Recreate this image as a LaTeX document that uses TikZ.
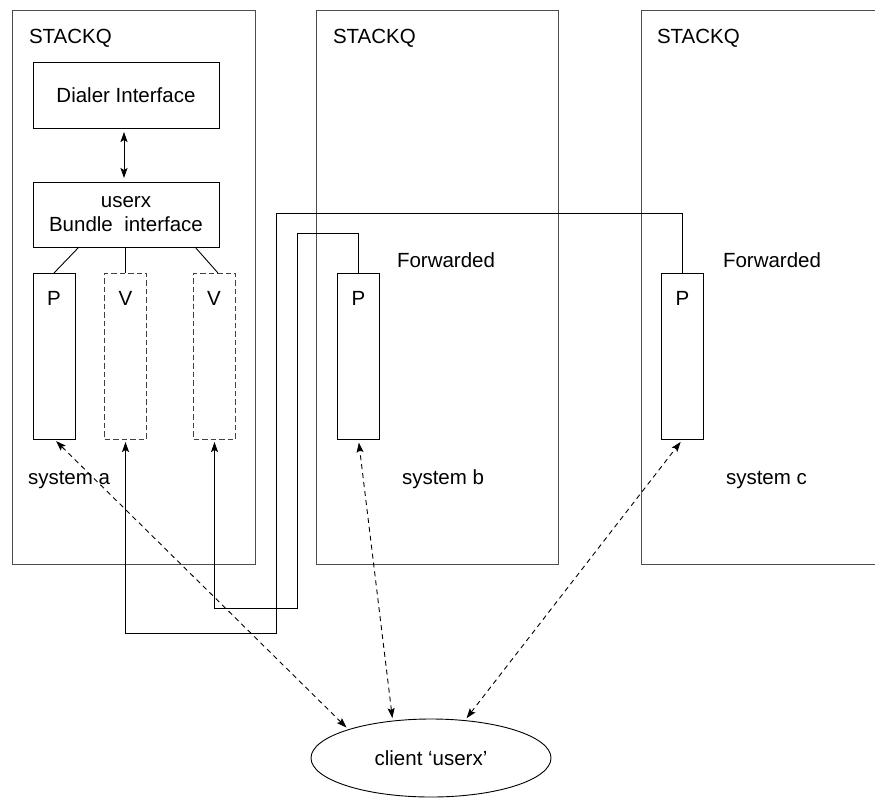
\documentclass[tikz,border=0pt]{standalone}
\usepackage{fontspec}
\setmainfont{Liberation Sans}
\usetikzlibrary{arrows.meta,shapes.geometric}
\begin{document}
\begin{tikzpicture}[x=1pt,y=-1pt,
  every node/.style={font=\fontsize{20.5}{24}\selectfont, inner sep=0pt, outer sep=0pt},
  frame/.style={draw=black!70, line width=1pt},
  tbox/.style={draw, line width=0.9pt, minimum width=186pt, minimum height=66pt, align=center},
  pbox/.style={draw, line width=0.9pt, minimum width=42pt, minimum height=166pt},
  vbox/.style={pbox, draw=black!75, dash pattern=on 5.5pt off 3pt},
  txt/.style={anchor=base west},
  lbl/.style={anchor=base},
  conn/.style={line width=0.9pt},
  tip/.tip={Stealth[length=10pt,width=7pt,inset=2pt]},
  arr/.style={conn, -tip, shorten >=3pt},
  darr/.style={conn, dash pattern=on 5pt off 4pt, tip-tip, shorten <=3pt, shorten >=3pt}
]
\useasboundingbox (0,0) rectangle (875,798);

% frames
\draw[frame] (12,10) rectangle (255,564);
\draw[frame] (316,10) rectangle (558,564);
\draw[frame] (880,10) -| (641,564) -- (880,564);

% titles
\node[txt] (sa) at (29,43) {STACKQ};
\node[txt] (sb) at (333,43) {STACKQ};
\node[txt] (sc) at (657,43) {STACKQ};

% system a boxes
\node[tbox] (dial) at (126,95) {Dialer Interface};
\node[tbox, minimum height=65pt] (bund) at (126,214.5) {userx\\Bundle\ \ interface};

\node[pbox] (pa) at (54,356) {};
\node[vbox] (va) at (125.5,356) {};
\node[vbox] (vb) at (214.5,356) {};
\node[pbox] (pb) at (358.5,356.5) {};
\node[pbox] (pc) at (682.5,356.5) {};

\node[lbl] (pal) at (54,305) {P};
\node[lbl] (val) at (125.5,305) {V};
\node[lbl] (vbl) at (214,305) {V};
\node[lbl] (pbl) at (358.5,305) {P};
\node[lbl] (pcl) at (682.5,305) {P};

\node[txt] (fb) at (397,267) {Forwarded};
\node[txt] (fc) at (723,267) {Forwarded};

\node[txt] (ya) at (28,484) {system a};
\node[txt] (yb) at (402,484) {system b};
\node[txt] (yc) at (726,484) {system c};

\node[draw, ellipse, line width=0.9pt, minimum width=240pt, minimum height=78pt] (cl) at (431,758) {client ‘userx’};

% connectors inside system a
\draw[conn, tip-tip, shorten <=4pt, shorten >=4pt] ([xshift=-2pt]dial.south) -- ([xshift=-2pt]bund.north);
\draw[conn] ([xshift=-47pt]bund.south) -- (pa.north);
\draw[conn] (va.north |- bund.south) -- (va.north);
\draw[conn] ([xshift=69pt]bund.south) -- ([xshift=3.5pt]vb.north);

% forwarding routes
\coordinate (r1) at (276,213);
\coordinate (r2) at (125.5,633);
\draw[arr] (pc.north) |- (r1) |- (r2) -- (va.south);
\coordinate (r3) at (297,233);
\coordinate (r4) at (214.5,608);
\draw[arr] (pb.north) |- (r3) |- (r4) -- (vb.south);

% client connections
\draw[darr] (cl.161) -- (pa.south);
\draw[darr] (cl.136) -- (pb.south);
\draw[darr] (cl.48) -- (pc.south);
\end{tikzpicture}
\end{document}
